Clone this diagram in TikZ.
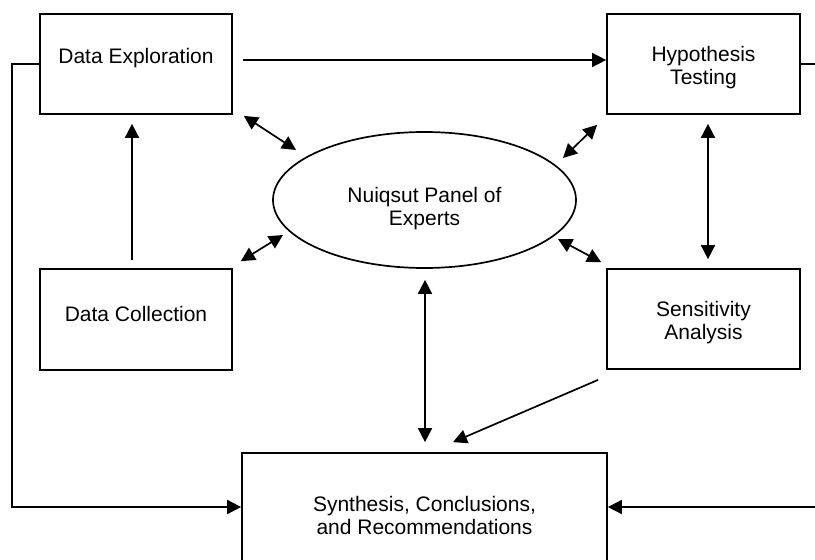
\documentclass[tikz,border=0pt]{standalone}
\usepackage{fontspec}
\setmainfont{Liberation Sans}
\usetikzlibrary{arrows.meta,shapes.geometric}

\begin{document}
\begin{tikzpicture}[x=1pt,y=-1pt,line width=1.7pt,
    >={Triangle[length=14pt,width=14pt]}]

        \useasboundingbox (0,0) rectangle (815,560);

        \begin{scope}[every node/.style={draw,align=center,inner sep=0pt,
            font=\fontsize{21}{23}\selectfont}]
          \node[minimum width=192,minimum height=100,text depth=16pt] (de)  at (136,64)    {Data Exploration};
          \node[minimum width=193,minimum height=100,text height=44.5pt] (ht)  at (703.5,64)  {Hypothesis\\Testing};
          \node[minimum width=192,minimum height=101,text depth=12pt] (dc)  at (136,319.5) {Data Collection};
          \node[minimum width=193,minimum height=100,text height=44.5pt] (sa)  at (703.5,319) {Sensitivity\\Analysis};
          \node[ellipse,minimum width=303,minimum height=136,text height=56pt] (panel) at (424.5,200) {Nuiqsut Panel of\\Experts};
          \node[minimum width=365,minimum height=119,text height=44.5pt] (syn) at (424.5,512.5) {Synthesis, Conclusions,\\and Recommendations};
        \end{scope}

        % loops round the outside
        \draw[->] (de.west) -- ++(-27,0) |- ([yshift=5.5pt]syn.west);
        \draw[->] (ht.east) -- ++(25,0) |- ([yshift=5.5pt]syn.east);

        \begin{scope}[every edge/.style={draw,->}]
          \path ([xshift=10pt,yshift=4pt]de.east) edge ([yshift=4pt]ht.west);
          \path ([xshift=-4pt]dc.north) edge[shorten <=8pt,shorten >=9pt] ([xshift=-4pt]de.south);
          \path ([shift={(-8,10)}]sa.south west) edge ([shift={(28.5,-10)}]syn.north);
        \end{scope}

        \begin{scope}[every edge/.style={draw,<->}]
          \path ([shift={(11,1)}]de.south east)  edge ([shift={(-128.5,-50)}]panel.center);
          \path ([shift={(-9,10)}]ht.south west) edge ([shift={(138.5,-42)}]panel.center);
          \path ([shift={(8,-7)}]dc.north east)  edge ([shift={(-141.5,35)}]panel.center);
          \path ([shift={(133.5,39)}]panel.center) edge ([shift={(-5,-6)}]sa.north west);
          \path ([xshift=0.5pt]panel.south) edge[shorten <=11pt,shorten >=10pt] ([xshift=0.5pt]syn.north);
          \path ([xshift=4.5pt]ht.south) edge[shorten <=9pt,shorten >=9pt] ([xshift=4.5pt]sa.north);
        \end{scope}

      \end{tikzpicture}
\end{document}
